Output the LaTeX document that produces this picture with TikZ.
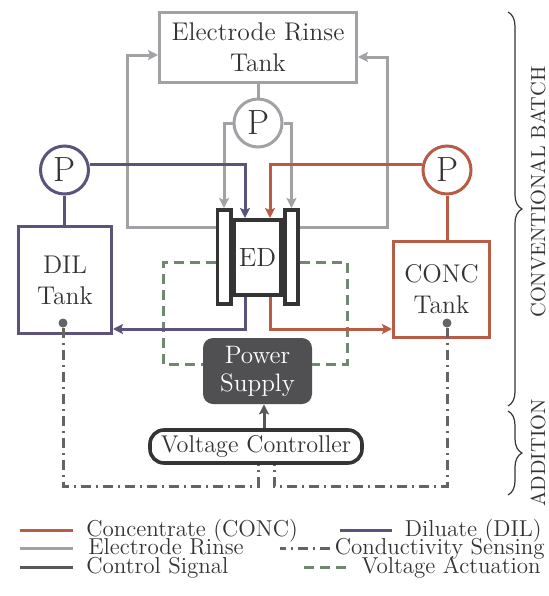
\documentclass[tikz,border=0pt]{standalone}
\usetikzlibrary{arrows.meta,decorations.pathreplacing}
\definecolor{Conc}{RGB}{184,92,70}
\definecolor{Dil}{RGB}{92,82,122}
\definecolor{Rinse}{RGB}{162,162,166}
\definecolor{Ctrl}{RGB}{88,88,88}
\definecolor{Sense}{RGB}{100,100,100}
\definecolor{Volt}{RGB}{112,136,112}
\definecolor{Ink}{RGB}{52,52,52}
\definecolor{PSfill}{RGB}{80,80,82}
\tikzset{
  tank/.style={rectangle,draw,fill=white,line width=1.5pt,align=center,text=Ink,
               font=\fontsize{12.8}{15.5}\selectfont,inner sep=0pt},
  pumpc/.style={circle,draw,fill=white,line width=1.5pt,minimum size=24pt,inner sep=0pt,
                text=Ink,font=\fontsize{17.5}{17.5}\selectfont},
  edbox/.style={rectangle,draw=Ink,fill=white,line width=1.8pt,minimum width=23.7pt,
                minimum height=37.7pt,inner sep=0pt,text=Ink,font=\fontsize{13.2}{15}\selectfont},
  eplate/.style={rectangle,draw=Ink,fill=white,line width=1.8pt,minimum width=6.7pt,
                 minimum height=47.2pt,inner sep=0pt},
  psbox/.style={rectangle,rounded corners=5pt,fill=PSfill,text=white,align=center,
                minimum width=54.5pt,minimum height=33pt,inner sep=0pt,
                font=\fontsize{12.6}{14}\selectfont},
  vcbox/.style={rectangle,rounded corners=7pt,draw=Ink,fill=white,line width=1.8pt,
                minimum width=106pt,minimum height=16.5pt,inner sep=0pt,text=Ink,
                font=\fontsize{12.1}{14}\selectfont},
  sensor/.style={circle,fill=Sense,minimum size=4.5pt,inner sep=0pt},
  flow/.style={line width=1.5pt,>={Stealth[length=5pt,width=5pt,inset=1pt]}},
  concline/.style={flow,Conc},
  dilline/.style={flow,Dil},
  rinseline/.style={flow,Rinse},
  ctrlline/.style={flow,Ctrl},
  condline/.style={flow,Sense,dash pattern=on 5pt off 2.5pt on 1pt off 2.5pt},
  voltline/.style={flow,Volt,dash pattern=on 5pt off 3pt},
  lgtext/.style={inner sep=0pt,text=Ink,text height=7.4pt,text depth=1.2pt,
                 font=\fontsize{11.5}{13}\selectfont},
  bracelbl/.style={inner sep=0pt,text=Ink,font=\fontsize{10.2}{12}\selectfont},
}
\begin{document}
\begin{tikzpicture}[x=0.5pt,y=-0.5pt]
\useasboundingbox[fill=white] (0,0) rectangle (549,596);

% tanks and pumps
\node[tank,draw=Rinse,minimum width=98.5pt,minimum height=35pt] (rinseT) at (258,47.5) {Electrode Rinse\\Tank};
\node[pumpc,draw=Rinse] (rinseP) at (258,123) {P};
\node[pumpc,draw=Dil] (dilP) at (64.5,170) {P};
\node[pumpc,draw=Conc] (concP) at (447,170) {P};
\node[tank,draw=Dil,minimum width=46.5pt,minimum height=53.5pt] (dilT) at (65,280) {DIL\\Tank};
\node[tank,draw=Conc,minimum width=48pt,minimum height=48pt] (concT) at (441.5,289.5) {CONC\\Tank};

% ED stack
\node[eplate] (edL) at (224,257) {};
\node[eplate] (edR) at (291.5,257) {};
\node[edbox] (ed) at (257.5,257.5) {ED};

% power side
\node[psbox] (ps) at (257.5,371) {Power\\Supply};
\node[vcbox] (vc) at (256,446.5) {Voltage Controller};
\node[sensor] (dilS) at (63,323) {};
\node[sensor] (concS) at (447,323) {};

% voltage actuation
\draw[voltline] (edL.west |- 0,262) -| (163,364) -- (ps.west |- 0,364);
\draw[voltline] (edR.east |- 0,262) -| (347,364) -- (ps.east |- 0,364);

% electrode rinse loop
\draw[rinseline] (rinseT) -- (rinseP);
\draw[rinseline,->] (rinseP.west) -| (edL.north);
\draw[rinseline,->] (rinseP.east) -| (edR.north);
\draw[rinseline,->] (edL.west |- 0,227) -| (127,55) -- (rinseT.west |- 0,55);
\draw[rinseline,->] (edR.east |- 0,227) -| (387,57) -- (rinseT.east |- 0,57);

% diluate and concentrate
\draw[dilline] (dilP.south) -- (dilP.south |- dilT.north);
\draw[concline] (concP.south) -- (concP.south |- concT.north);
\draw[dilline,->] (dilP.east |- 0,164) -| ([xshift=-6.25pt]ed.north);
\draw[concline,->] (concP.west |- 0,164) -| ([xshift=6.25pt]ed.north);
\draw[dilline,->] ([xshift=-6.25pt]ed.south) |- (dilT.east |- 0,329);
\draw[concline,->] ([xshift=6.25pt]ed.south) |- (concT.west |- 0,329);

% control and sensing
\draw[ctrlline,->] (vc.north -| 264,0) -- (ps.south -| 264,0);
\draw[condline] (dilS) |- (258,486) -- (vc.south -| 258,0);
\draw[condline] (concS) |- (274,486) -- (vc.south -| 274,0);

% braces
\draw[Ink,line width=0.6pt,decorate,decoration={brace,amplitude=7pt}] (508,12) -- (508,406);
\draw[Ink,line width=0.6pt,decorate,decoration={brace,amplitude=7pt}] (508,411) -- (508,495);
\node[bracelbl,rotate=90] (lbConv) at (538,192) {CONVENTIONAL BATCH};
\node[bracelbl,rotate=90] (lbAdd) at (538,453) {ADDITION};

% legend
\node[lgtext,anchor=west] (lgConc) at (86,530) {Concentrate (CONC)};
\node[lgtext,anchor=west] (lgRinse) at (88,548) {Electrode Rinse};
\node[lgtext,anchor=west] (lgCtrl) at (86,567) {Control Signal};
\node[lgtext,anchor=east] (lgDil) at (542,530) {Diluate (DIL)};
\node[lgtext,anchor=east] (lgCond) at (545,548) {Conductivity Sensing};
\node[lgtext,anchor=east] (lgVolt) at (541,567) {Voltage Actuation};
\draw[concline] (20,530) -- (73,530);
\draw[rinseline] (20,548) -- (73,548);
\draw[ctrlline] (20,567) -- (73,567);
\draw[dilline] ([xshift=-6.5pt]lgDil.west) -- ++(-52,0);
\draw[condline] ([xshift=-2pt]lgCond.west) -- ++(-50,0);
\draw[voltline] ([xshift=-7.5pt]lgVolt.west) -- ++(-47,0);
\end{tikzpicture}
\end{document}
